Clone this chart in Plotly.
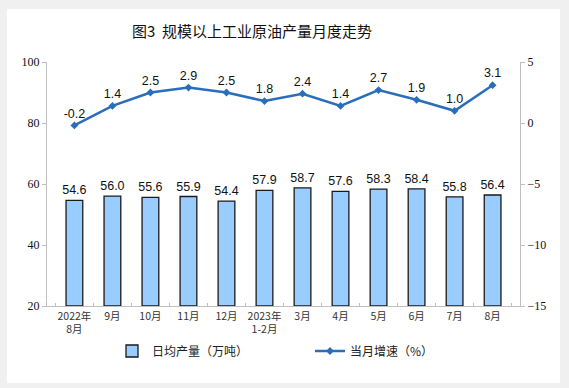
import plotly.graph_objects as go

categories = ["2022年<br>8月", "9月", "10月", "11月", "12月", "2023年<br>1-2月",
              "3月", "4月", "5月", "6月", "7月", "8月"]
daily_output = [54.6, 56.0, 55.6, 55.9, 54.4, 57.9, 58.7, 57.6, 58.3, 58.4, 55.8, 56.4]
growth = [-0.2, 1.4, 2.5, 2.9, 2.5, 1.8, 2.4, 1.4, 2.7, 1.9, 1.0, 3.1]

W, H = 569, 388
L, R, T, B = 47, 49, 62, 82
pw, ph = W - L - R, H - T - B

def px2x(x):
    return (x - L) / pw

def px2y(y):
    return (H - B - y) / ph

fig = go.Figure()
fig.add_trace(go.Bar(
    x=categories, y=[v - 20 for v in daily_output], base=20,
    name="日均产量（万吨）", legend="legend",
    marker=dict(color="#99ccff", line=dict(color="#1a1a1a", width=1.3)),
    width=0.44,
    text=[f"{v:.1f}" for v in daily_output], textposition="outside",
    constraintext="none",
    textfont=dict(family="Liberation Sans, Arial", size=12.5, color="#111"),
    cliponaxis=False,
))
fig.add_trace(go.Scatter(
    x=categories, y=growth, yaxis="y2", name="当月增速（%）", legend="legend2",
    mode="lines+markers+text",
    line=dict(color="#2a6ebb", width=2.5),
    marker=dict(symbol="diamond", size=6, color="#2a6ebb"),
    text=[f"{v:.1f}" for v in growth], textposition="top center",
    textfont=dict(family="Liberation Sans, Arial", size=12.5, color="#111"),
    cliponaxis=False,
))

fig.add_shape(type="rect", xref="paper", yref="paper",
              x0=px2x(7), x1=px2x(560), y0=px2y(383), y1=px2y(9),
              fillcolor="white", line=dict(width=0), layer="below")

legend_style = dict(orientation="h", xanchor="left", y=px2y(351), yanchor="middle",
                    font=dict(family="Noto Sans CJK SC", size=12, color="#222"),
                    bgcolor="rgba(0,0,0,0)", borderwidth=0)

fig.update_layout(
    width=W, height=H,
    margin=dict(l=L, r=R, t=T, b=B, autoexpand=False),
    paper_bgcolor="#f0f0f0", plot_bgcolor="white",
    title=dict(text="图3  规模以上工业原油产量月度走势", x=252 / W, xref="container",
               xanchor="center", y=1 - 32 / H, yanchor="middle",
               font=dict(family="Noto Sans CJK SC", size=15, color="#111")),
    showlegend=True,
    legend=dict(x=px2x(112), **legend_style),
    legend2=dict(x=px2x(310), **legend_style),
    bargap=0.5,
    xaxis=dict(type="category", showline=True, linecolor="#bfbfbf", linewidth=1,
               ticks="inside", tickson="boundaries", ticklen=3, tickcolor="#bfbfbf",
               tickangle=0, automargin=False,
               tickfont=dict(family="Noto Sans CJK SC", size=10.5, color="#333"),
               showgrid=False, zeroline=False),
    yaxis=dict(range=[20, 100], dtick=20, showline=True, linecolor="#bfbfbf",
               ticks="outside", ticklen=4, tickcolor="#bfbfbf", showgrid=False,
               zeroline=False, automargin=False,
               tickfont=dict(family="Liberation Serif", size=12, color="#111")),
    yaxis2=dict(range=[-15, 5], dtick=5, overlaying="y", side="right", showline=True,
                linecolor="#bfbfbf", ticks="outside", ticklen=4, tickcolor="#bfbfbf",
                showgrid=False, zeroline=False, automargin=False,
                tickfont=dict(family="Liberation Serif", size=12, color="#111")),
)

fig.write_html(
    "out.html",
    config={"responsive": False, "displayModeBar": False},
    post_script="document.body.style.margin='0';document.body.style.overflow='hidden';",
)
